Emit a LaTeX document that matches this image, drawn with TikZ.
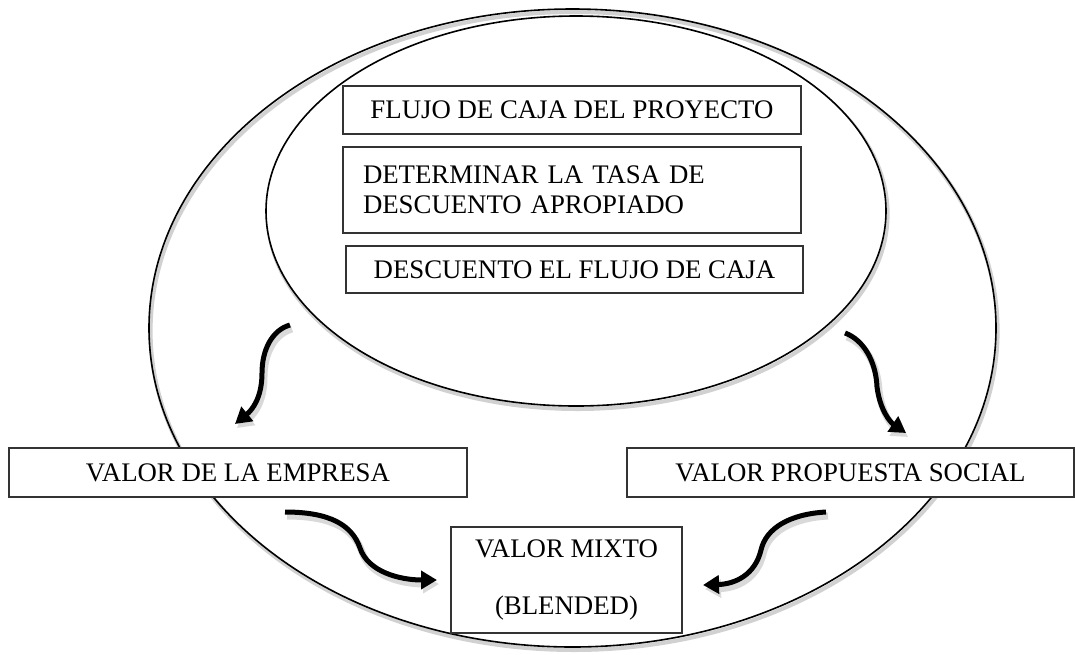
\documentclass[tikz,border=0pt]{standalone}
\usepackage{fontspec}
\setmainfont{Liberation Serif}
\usetikzlibrary{shapes.geometric,arrows.meta}
\begin{document}
\begin{tikzpicture}[x=0.5pt,y=-0.5pt,
 box/.style={draw=black!80, line width=0.7pt, fill=white, inner sep=0pt, font=\fontsize{13.4}{15}\selectfont, align=center},
 ell/.style={ellipse, draw, line width=0.8pt, inner sep=0pt, preaction={draw=black!18, line width=2pt, transform canvas={shift={(0.8pt,-1.5pt)}}}},
 flow/.style={line width=2.5pt, -{Triangle[length=8pt,width=9pt]}, preaction={draw=black!15, line width=3.5pt, transform canvas={shift={(1pt,-2pt)}}}}
]
\useasboundingbox (0,0) rectangle (1075,654);
\node[ell, minimum width=423.5pt, minimum height=319pt] (outer) at (572.5,328) {};
\node[ell, fill=white, minimum width=310pt, minimum height=195pt] (inner) at (576,211) {};
\node[box, minimum width=229pt, minimum height=24pt] (flujo) at (572,110) {FLUJO DE CAJA DEL PROYECTO};
\node[box, text width=209pt, align=left, inner xsep=10pt, minimum height=43pt] (tasa) at (572,190) {DETERMINAR LA TASA DE\\DESCUENTO APROPIADO};
\node[box, minimum width=228.5pt, minimum height=23.5pt] (desc) at (574.5,269.5) {DESCUENTO EL FLUJO DE CAJA};
\node[box, minimum width=229pt, minimum height=24.5pt] (empresa) at (238,472.5) {VALOR DE LA EMPRESA};
\node[box, minimum width=223.5pt, minimum height=24.5pt] (social) at (850.5,472.5) {VALOR PROPUESTA SOCIAL};
\node[box, minimum width=115.5pt, minimum height=53pt] (mixto) at (566.5,580) {VALOR MIXTO\\[13.5pt](BLENDED)};
\coordinate (a1s) at (290,325); \coordinate (a1e) at (235,424);
\coordinate (a2s) at (845,333); \coordinate (a2e) at (906,433);
\coordinate (a3s) at (285,512); \coordinate (a3e) at (437,580);
\coordinate (a4s) at (826,512); \coordinate (a4e) at (703,585);
\draw[flow] (a1s) .. controls (272,330) and (262,350) .. (262,373) .. controls (262,398) and (252,410) .. (a1e);
\draw[flow] (a2s) .. controls (864,340) and (876,362) .. (877,387) .. controls (880,410) and (890,422) .. (a2e);
\draw[flow] (a3s) .. controls (330,512) and (352,525) .. (360,548) .. controls (368,572) and (400,580) .. (a3e);
\draw[flow] (a4s) .. controls (790,514) and (766,528) .. (761,550) .. controls (755,575) and (735,584) .. (a4e);
\end{tikzpicture}
\end{document}
